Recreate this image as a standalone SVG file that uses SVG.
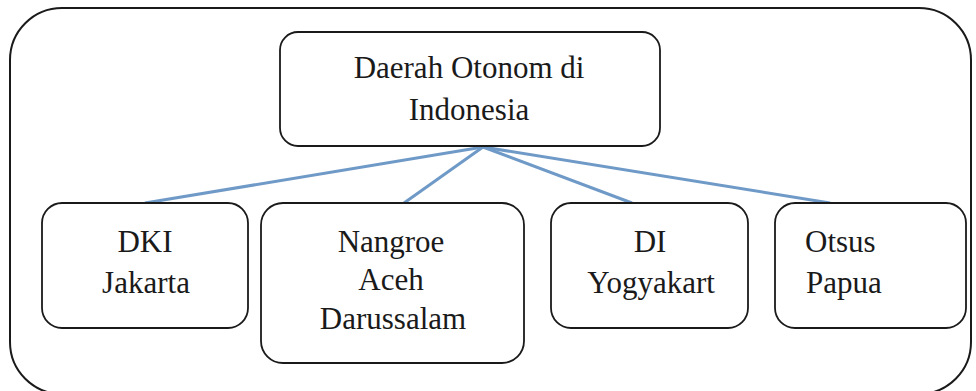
<svg xmlns="http://www.w3.org/2000/svg" width="976" height="391" viewBox="0 0 976 391">
<style>
.box{fill:#fff;stroke:#1a1a1a;stroke-width:1.8}
.frame{fill:#fff;stroke:#1a1a1a;stroke-width:2}
.c{stroke:#6f9ac7;stroke-width:3;fill:none}
</style>
<rect width="976" height="391" fill="#fff"/>
<rect class="frame" x="10" y="8" width="961" height="386" rx="52"/>
<g id="connectors">
<line class="c" x1="483" y1="147" x2="145" y2="203"/>
<line class="c" x1="483" y1="147" x2="404" y2="203"/>
<line class="c" x1="483" y1="147" x2="632" y2="203"/>
<line class="c" x1="483" y1="147" x2="830" y2="203"/>
</g>
<g font-family="Liberation Serif, DejaVu Serif, serif" font-size="31" fill="#1a1a1a" text-anchor="middle">
<g id="root">
<rect class="box" x="280" y="32" width="380" height="114" rx="18"/>
<text x="469" y="78">Daerah Otonom di</text>
<text x="469" y="120">Indonesia</text>
</g>
<g id="dki">
<rect class="box" x="42" y="203" width="206" height="125" rx="20"/>
<text x="145" y="252">DKI</text>
<text x="146" y="293">Jakarta</text>
</g>
<g id="nad">
<rect class="box" x="261" y="203" width="263" height="160" rx="22"/>
<text x="391" y="252">Nangroe</text>
<text x="391" y="290">Aceh</text>
<text x="393" y="329">Darussalam</text>
</g>
<g id="diy">
<rect class="box" x="551" y="203" width="197" height="125" rx="20"/>
<text x="650" y="252">DI</text>
<text x="651" y="293">Yogyakart</text>
</g>
<g id="papua">
<rect class="box" x="775" y="203" width="191" height="125" rx="20"/>
<text x="805" y="252" text-anchor="start">Otsus</text>
<text x="806" y="293" text-anchor="start">Papua</text>
</g>
</g>
</svg>
